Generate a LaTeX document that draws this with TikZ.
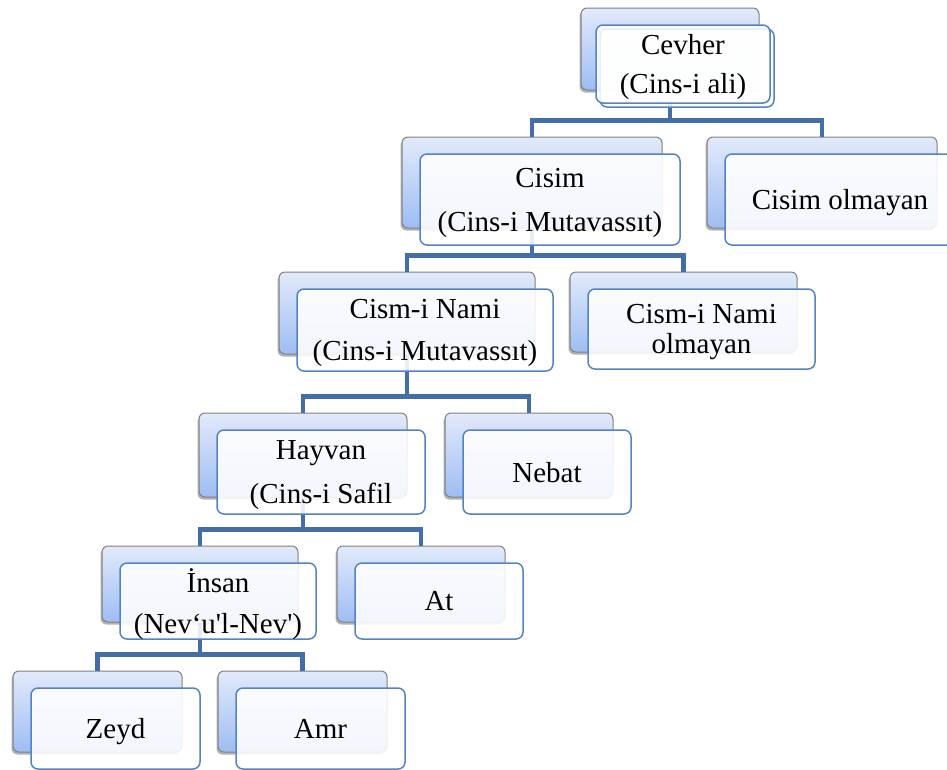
\documentclass[tikz,border=0pt]{standalone}
\usepackage{fontspec}
\setmainfont{Liberation Serif}
\usetikzlibrary{shadows}

\definecolor{linkblue}{RGB}{68,110,168}
\definecolor{edgeblue}{RGB}{84,131,194}
\definecolor{boxtop}{RGB}{226,234,251}
\definecolor{boxbottom}{RGB}{158,189,243}

\begin{document}
\begin{tikzpicture}[x=1pt, y=-1pt,
    boxsize/.style 2 args={minimum width=#1, minimum height=#2},
    backbox/.style={draw=gray, line width=1pt, rounded corners=6pt, inner sep=0pt,
        top color=boxtop, bottom color=boxbottom,
        drop shadow={shadow xshift=-1.5pt, shadow yshift=-2.5pt, opacity=0.3, fill=black}},
    frontbox/.style={draw=edgeblue, line width=1.5pt, rounded corners=7pt, inner sep=0pt,
        fill=white, fill opacity=0.88, text opacity=1, align=center, text depth=0pt,
        font=\fontsize{29}{30}\selectfont},
    link/.style={draw=linkblue, line width=4.5pt}]

    \def\fx{18};
    \def\fy{17};
    \def\bus{16pt};

    \useasboundingbox (0,0) rectangle (947,769);

% back boxes
    \node[backbox, boxsize={178pt}{82pt}] (cevB) at (670,49) {};
    \node[backbox, boxsize={260pt}{91pt}] (cisB) at (532,182.5) {};
    \node[backbox, boxsize={230pt}{91pt}] (colB) at (822,182.5) {};
    \node[backbox, boxsize={256pt}{82pt}] (namB) at (407,313) {};
    \node[backbox, boxsize={227pt}{80pt}] (nolB) at (683.5,312) {};
    \node[backbox, boxsize={208pt}{84pt}] (hayB) at (303,455) {};
    \node[backbox, boxsize={168pt}{84pt}] (nebB) at (529,455) {};
    \node[backbox, boxsize={196pt}{76pt}] (insB) at (200,584) {};
    \node[backbox, boxsize={168pt}{76pt}] (atB) at (421,584) {};
    \node[backbox, boxsize={169pt}{81pt}] (zeyB) at (97.5,711.5) {};
    \node[backbox, boxsize={169pt}{81pt}] (amrB) at (302.5,711.5) {};

% connectors
    \draw[link] (cevB.south) |- ([yshift=\bus]cisB.north) -| (cisB.north);
    \draw[link] (cevB.south) |- ([yshift=\bus]colB.north) -| (colB.north);
    \draw[link] (cisB.south) |- ([yshift=\bus]namB.north) -| (namB.north);
    \draw[link] (cisB.south) |- ([yshift=\bus]nolB.north) -| (nolB.north);
    \draw[link] (namB.south) |- ([yshift=\bus]hayB.north) -| (hayB.north);
    \draw[link] (namB.south) |- ([yshift=\bus]nebB.north) -| (nebB.north);
    \draw[link] (hayB.south) |- ([yshift=\bus]insB.north) -| (insB.north);
    \draw[link] (hayB.south) |- ([yshift=\bus]atB.north) -| (atB.north);
    \draw[link] (insB.south) |- ([yshift=\bus]zeyB.north) -| (zeyB.north);
    \draw[link] (insB.south) |- ([yshift=\bus]amrB.north) -| (amrB.north);

% front boxes
    \node[frontbox, boxsize={174pt}{78pt}] (cev2) at (687,68) {};
    \node[frontbox, boxsize={174pt}{78pt}] (cev) at (683,64) {Cevher\\[9pt](Cins-i ali)};
    \node[frontbox, boxsize={260pt}{91pt}] (cis) at ([shift={(\fx,\fy)}]cisB) {Cisim\\[14pt](Cins-i Mutavassıt)};
    \node[frontbox, boxsize={230pt}{91pt}] (col) at ([shift={(\fx,\fy)}]colB) {Cisim olmayan};
    \node[frontbox, boxsize={256pt}{82pt}] (nam) at ([shift={(\fx,\fy)}]namB) {Cism-i Nami\\[12pt](Cins-i Mutavassıt)};
    \node[frontbox, boxsize={227pt}{80pt}] (nol) at ([shift={(\fx,\fy)}]nolB) {Cism-i Nami\\olmayan};
    \node[frontbox, boxsize={208pt}{84pt}] (hay) at ([shift={(\fx,\fy)}]hayB) {Hayvan\\[14pt](Cins-i Safil};
    \node[frontbox, boxsize={168pt}{84pt}] (neb) at ([shift={(\fx,\fy)}]nebB) {Nebat};
    \node[frontbox, boxsize={196pt}{76pt}] (ins) at ([shift={(\fx,\fy)}]insB) {İnsan\\[11pt](Nev‘u\textquotesingle l-Nev\textquotesingle)};
    \node[frontbox, boxsize={168pt}{76pt}] (at) at ([shift={(\fx,\fy)}]atB) {At};
    \node[frontbox, boxsize={169pt}{81pt}] (zey) at ([shift={(\fx,\fy)}]zeyB) {Zeyd};
    \node[frontbox, boxsize={169pt}{81pt}] (amr) at ([shift={(\fx,\fy)}]amrB) {Amr};

\end{tikzpicture}
\end{document}
